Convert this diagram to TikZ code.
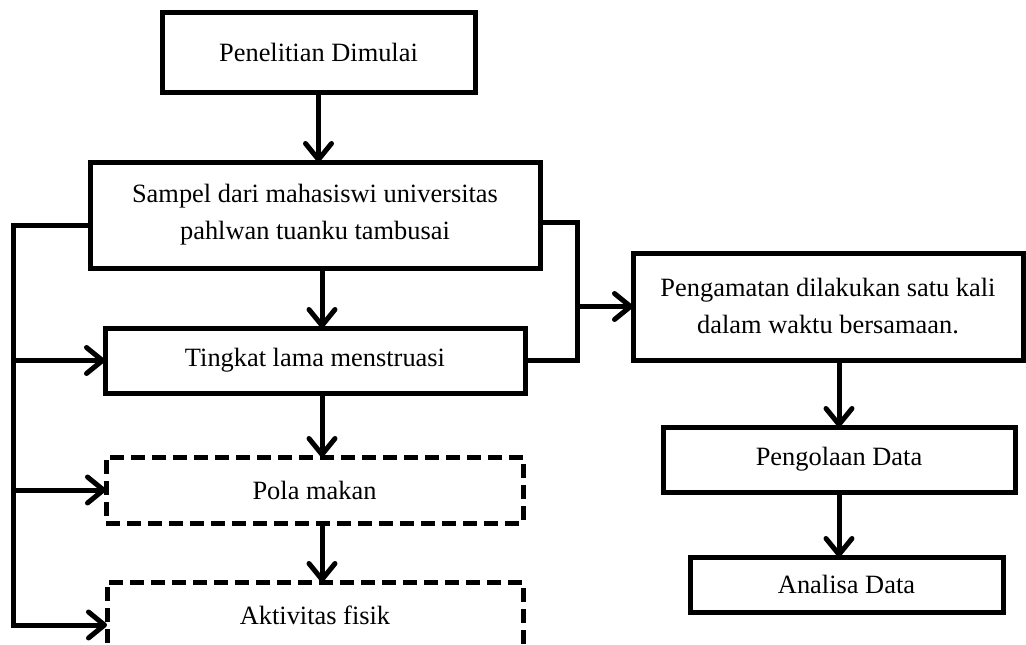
\documentclass[tikz,border=0pt]{standalone}
\usepackage{fontspec}
\setmainfont{Liberation Serif}
\usetikzlibrary{arrows.meta,calc}
\begin{document}
\begin{tikzpicture}[x=1pt,y=-1pt,
  box/.style={draw, line width=5pt, outer sep=0pt, inner sep=0pt, align=center, font=\fontsize{26.4}{37}\selectfont},
  dbox/.style={box, dash pattern=on 14pt off 7pt},
  arr/.style={line width=5pt, line join=miter, -{Straight Barb[length=16pt,width=26pt,round]}},
  ln/.style={line width=5pt, line join=miter}]
\useasboundingbox (0,0) rectangle (1026,645);
\clip (0,0) rectangle (1026,645);
\node[box, minimum width=313pt, minimum height=80pt] (b1) at (318.5,52) {Penelitian Dimulai};
\node[box, minimum width=450pt, minimum height=106pt] (b2) at (315,215) {Sampel dari mahasiswi universitas\\pahlwan tuanku tambusai};
\node[box, minimum width=420pt, minimum height=65pt] (b3) at (315,360.5) {Tingkat lama menstruasi};
\node[dbox, minimum width=417pt, minimum height=66pt] (b4) at (314.5,490) {Pola makan};
\node[dbox, minimum width=416pt, minimum height=66pt] (b5) at (315,615) {Aktivitas fisik};
\node[box, minimum width=390pt, minimum height=107pt] (b6) at (828,306.5) {Pengamatan dilakukan satu kali\\dalam waktu bersamaan.};
\node[box, minimum width=352pt, minimum height=65pt] (b7) at (839,459.5) {Pengolaan Data};
\node[box, minimum width=313pt, minimum height=55pt] (b8) at (846.5,584.5) {Analisa Data};
\coordinate (lt) at (13,225);
\coordinate (lb) at (13,625);
\coordinate (rc) at (577,222);
\draw[arr] (b1.south) -- (b1.south |- b2.north);
\draw[arr] ([xshift=7pt]b2.south) -- ([xshift=7pt]b2.south |- b3.north);
\draw[arr] ([xshift=7pt]b3.south) -- ([xshift=7pt]b3.south |- b4.north);
\draw[arr] ([xshift=7.5pt]b4.south) -- ([xshift=7.5pt]b4.south |- b5.north);
\draw[arr] (b7.north |- b6.south) -- (b7.north);
\draw[arr] (b7.south) -- (b7.south |- b8.north);
\draw[arr] ([yshift=-10pt]b2.west) -| (lb) -- (lb -| b5.west);
\draw[arr] (lt |- b3.west) -- (b3.west);
\draw[arr] (lt |- b4.west) -- (b4.west);
\draw[ln] ([yshift=-7pt]b2.east) -| (rc |- b3.east) -- (b3.east);
\draw[arr] (rc |- b6.west) -- (b6.west);
\end{tikzpicture}
\end{document}
